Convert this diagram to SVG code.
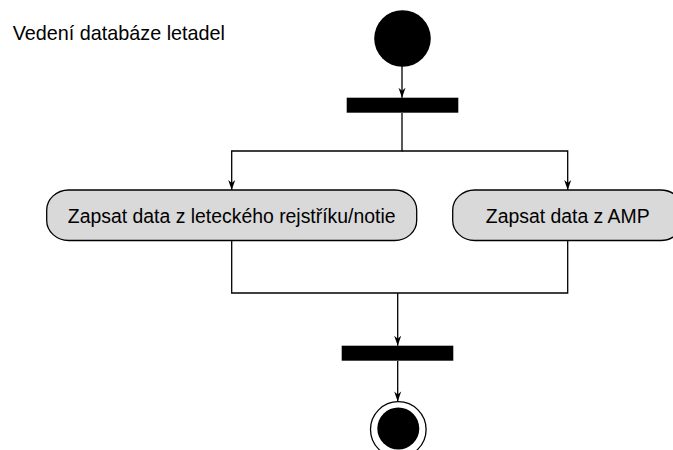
<svg xmlns="http://www.w3.org/2000/svg" width="673" height="450" viewBox="0 0 673 450">
<style>
text{font-family:"Liberation Sans",Arial,Helvetica,sans-serif;fill:#000}
.lbl{font-size:19.4px;text-anchor:middle}
.title{font-size:19.8px}
.act{fill:#d9d9d9;stroke:#000;stroke-width:1.3}
.bar{fill:#000}
.conn{fill:none;stroke:#000;stroke-width:1.3}
</style>
<defs>
<marker id="arr" markerWidth="12" markerHeight="8" refX="11" refY="4" orient="auto" markerUnits="userSpaceOnUse" viewBox="0 0 12 8">
<path d="M1,0.5 L11,4 L1,7.5 L4,4 Z" fill="#000"/>
</marker>
</defs>
<rect width="673" height="450" fill="#fff"/>
<text class="title" x="12.7" y="39.5">Vedení databáze letadel</text>
<g id="connectors">
<path class="conn" d="M402,66 V97.7" marker-end="url(#arr)"/>
<path class="conn" d="M402,113 V151 H231.7 V190" marker-end="url(#arr)"/>
<path class="conn" d="M402,151 H567.7 V190" marker-end="url(#arr)"/>
<path class="conn" d="M231.7,240.5 V293 H567.7 V240.5"/>
<path class="conn" d="M397.7,293 V345.7" marker-end="url(#arr)"/>
<path class="conn" d="M397.7,361 V401.5" marker-end="url(#arr)"/>
</g>
<g id="start"><circle cx="402.5" cy="38.5" r="28.3" fill="#000"/></g>
<g id="fork"><rect class="bar" x="346.7" y="97.7" width="111.6" height="15"/></g>
<g id="act1">
<rect class="act" x="46.7" y="190" width="370" height="50.5" rx="22" ry="20"/>
<text class="lbl" x="231.7" y="223">Zapsat data z leteckého rejstříku/notie</text>
</g>
<g id="act2">
<rect class="act" x="452.7" y="190" width="230" height="50.5" rx="22" ry="20"/>
<text class="lbl" x="567.7" y="223">Zapsat data z AMP</text>
</g>
<g id="join"><rect class="bar" x="341.7" y="345.7" width="111.6" height="15"/></g>
<g id="end">
<circle cx="398.3" cy="429.5" r="27.8" fill="#fff" stroke="#000" stroke-width="1.3"/>
<circle cx="398.3" cy="428.5" r="21" fill="#000"/>
</g>
</svg>
